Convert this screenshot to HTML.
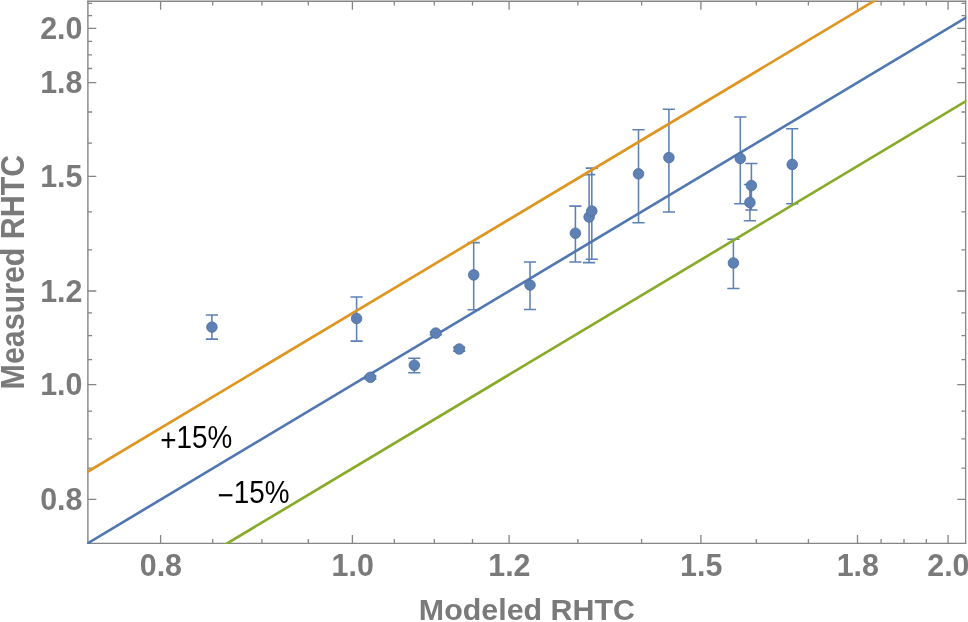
<!DOCTYPE html>
<html lang="en"><head><meta charset="utf-8"><title>Measured vs Modeled RHTC</title>
<style>html,body{margin:0;padding:0;background:#fff;}body{width:968px;height:622px;overflow:hidden;}svg{display:block;}.tl{font-family:"Liberation Sans",Arial,Helvetica,sans-serif;font-weight:bold;font-size:30.4px;fill:#7a7a7a;}.an{font-family:"Liberation Sans",Arial,Helvetica,sans-serif;font-size:31.7px;fill:#000;}</style></head><body>
<svg width="968" height="622" viewBox="0 0 968 622">
<rect x="0" y="0" width="968" height="622" fill="#ffffff"/>
<defs><clipPath id="plot"><rect x="87.30" y="0.70" width="878.95" height="543.20"/></clipPath></defs>
<g stroke="#858585" stroke-width="1.3" fill="none">
<path d="M87.90 0.65V543.80" stroke-width="1.4"/>
<path d="M965.65 0.65V543.80" stroke-width="1.3"/>
<path d="M87.20 1.25H966.30" stroke-width="1.35"/>
<path d="M87.20 543.35H966.30" stroke-width="1.05"/>
<path d="M160.6 543.3v-8.4M160.6 1.3v8.4M87.9 499.4h8.4M965.6 499.4h-8.4M352.4 543.3v-8.4M352.4 1.3v8.4M87.9 384.7h8.4M965.6 384.7h-8.4M509.1 543.3v-8.4M509.1 1.3v8.4M87.9 291.0h8.4M965.6 291.0h-8.4M700.9 543.3v-8.4M700.9 1.3v8.4M87.9 176.3h8.4M965.6 176.3h-8.4M857.5 543.3v-8.4M857.5 1.3v8.4M87.9 82.6h8.4M965.6 82.6h-8.4M948.1 543.3v-8.4M948.1 1.3v8.4M87.9 28.4h8.4M965.6 28.4h-8.4M212.7 543.3v-4.2M212.7 1.3v4.2M87.9 468.2h4.2M965.6 468.2h-4.2M261.9 543.3v-4.2M261.9 1.3v4.2M87.9 438.9h4.2M965.6 438.9h-4.2M308.3 543.3v-4.2M308.3 1.3v4.2M87.9 411.1h4.2M965.6 411.1h-4.2M394.3 543.3v-4.2M394.3 1.3v4.2M87.9 359.6h4.2M965.6 359.6h-4.2M434.3 543.3v-4.2M434.3 1.3v4.2M87.9 335.7h4.2M965.6 335.7h-4.2M472.5 543.3v-4.2M472.5 1.3v4.2M87.9 312.9h4.2M965.6 312.9h-4.2M577.9 543.3v-4.2M577.9 1.3v4.2M87.9 249.8h4.2M965.6 249.8h-4.2M641.6 543.3v-4.2M641.6 1.3v4.2M87.9 211.8h4.2M965.6 211.8h-4.2M756.3 543.3v-4.2M756.3 1.3v4.2M87.9 143.1h4.2M965.6 143.1h-4.2M808.4 543.3v-4.2M808.4 1.3v4.2M87.9 112.0h4.2M965.6 112.0h-4.2M881.1 543.3v-4.2M881.1 1.3v4.2M87.9 68.5h4.2M965.6 68.5h-4.2M904.0 543.3v-4.2M904.0 1.3v4.2M87.9 54.8h4.2M965.6 54.8h-4.2M926.3 543.3v-4.2M926.3 1.3v4.2M87.9 41.4h4.2M965.6 41.4h-4.2M87.9 15.7h4.2M965.6 15.7h-4.2M87.9 3.3h4.2M965.6 3.3h-4.2"/>
</g>
<g stroke="#5E81B5" stroke-width="1.55" fill="none">
<path d="M211.9 314.9V339.1M205.8 314.9h12.2M205.8 339.1h12.2M356.6 296.9V341.1M350.5 296.9h12.2M350.5 341.1h12.2M370.4 376.0V379.0M364.3 376.0h12.2M364.3 379.0h12.2M414.3 358.3V372.7M408.2 358.3h12.2M408.2 372.7h12.2M435.8 332.0V334.6M429.7 332.0h12.2M429.7 334.6h12.2M459.2 347.2V351.2M453.1 347.2h12.2M453.1 351.2h12.2M473.7 242.6V309.8M467.6 242.6h12.2M467.6 309.8h12.2M530.0 262.0V309.5M523.9 262.0h12.2M523.9 309.5h12.2M575.4 206.1V262.0M569.3 206.1h12.2M569.3 262.0h12.2M589.1 174.6V262.6M583.0 174.6h12.2M583.0 262.6h12.2M591.8 168.1V259.3M585.7 168.1h12.2M585.7 259.3h12.2M638.5 129.8V222.8M632.4 129.8h12.2M632.4 222.8h12.2M668.9 109.3V211.9M662.8 109.3h12.2M662.8 211.9h12.2M733.4 239.2V288.4M727.3 239.2h12.2M727.3 288.4h12.2M740.3 117.0V203.7M734.2 117.0h12.2M734.2 203.7h12.2M749.9 184.5V220.7M743.8 184.5h12.2M743.8 220.7h12.2M751.4 163.4V210.0M745.3 163.4h12.2M745.3 210.0h12.2M792.2 128.8V203.7M786.1 128.8h12.2M786.1 203.7h12.2"/>
</g>
<g clip-path="url(#plot)" fill="none" stroke-width="2.65">
<line x1="82.9" y1="474.54" x2="970.6" y2="-56.78" stroke="#DF9620"/>
<line x1="82.9" y1="546.14" x2="970.6" y2="14.82" stroke="#5077B1"/>
<line x1="82.9" y1="629.74" x2="970.6" y2="98.42" stroke="#87AB28"/>
</g>
<g fill="#5E81B5" stroke="#4c6d9e" stroke-width="0.8">
<circle cx="211.9" cy="327.1" r="5.3"/>
<circle cx="356.6" cy="318.5" r="5.3"/>
<circle cx="370.4" cy="377.3" r="5.3"/>
<circle cx="414.3" cy="365.2" r="5.3"/>
<circle cx="435.8" cy="333.1" r="5.3"/>
<circle cx="459.2" cy="349.0" r="5.3"/>
<circle cx="473.7" cy="274.9" r="5.3"/>
<circle cx="530.0" cy="285.0" r="5.3"/>
<circle cx="575.4" cy="233.2" r="5.3"/>
<circle cx="589.1" cy="217.0" r="5.3"/>
<circle cx="591.8" cy="211.0" r="5.3"/>
<circle cx="638.5" cy="173.8" r="5.3"/>
<circle cx="668.9" cy="157.6" r="5.3"/>
<circle cx="733.4" cy="263.0" r="5.3"/>
<circle cx="740.3" cy="158.4" r="5.3"/>
<circle cx="749.9" cy="202.4" r="5.3"/>
<circle cx="751.4" cy="185.5" r="5.3"/>
<circle cx="792.2" cy="164.4" r="5.3"/>
</g>
<g class="tl">
<text transform="translate(82.4,510.1) scale(0.975,1)" font-size="31.2" text-anchor="end">0.8</text>
<text transform="translate(82.4,395.4) scale(0.975,1)" font-size="31.2" text-anchor="end">1.0</text>
<text transform="translate(82.4,301.7) scale(0.975,1)" font-size="31.2" text-anchor="end">1.2</text>
<text transform="translate(82.4,187.0) scale(0.975,1)" font-size="31.2" text-anchor="end">1.5</text>
<text transform="translate(82.4,93.3) scale(0.975,1)" font-size="31.2" text-anchor="end">1.8</text>
<text transform="translate(82.4,39.1) scale(0.975,1)" font-size="31.2" text-anchor="end">2.0</text>
<text transform="translate(160.9,576) scale(0.975,1)" font-size="31.2" text-anchor="middle">0.8</text>
<text transform="translate(352.7,576) scale(0.975,1)" font-size="31.2" text-anchor="middle">1.0</text>
<text transform="translate(509.4,576) scale(0.975,1)" font-size="31.2" text-anchor="middle">1.2</text>
<text transform="translate(701.2,576) scale(0.975,1)" font-size="31.2" text-anchor="middle">1.5</text>
<text transform="translate(857.8,576) scale(0.975,1)" font-size="31.2" text-anchor="middle">1.8</text>
<text transform="translate(948.4,576) scale(0.975,1)" font-size="31.2" text-anchor="middle">2.0</text>
<text x="526.9" y="619.7" text-anchor="middle">Modeled RHTC</text>
<text transform="translate(23.7,272.1) rotate(-90) scale(0.924,1)" font-size="32.9" text-anchor="middle">Measured RHTC</text>
</g>
<g class="an">
<text transform="translate(160.2,447.9) scale(0.879,1)"><tspan dy="2.9">+</tspan><tspan dy="-2.9">15%</tspan></text>
<text transform="translate(217.5,503.0) scale(0.879,1)"><tspan dy="2.6">−</tspan><tspan dy="-2.6">15%</tspan></text>
</g>
</svg></body></html>
